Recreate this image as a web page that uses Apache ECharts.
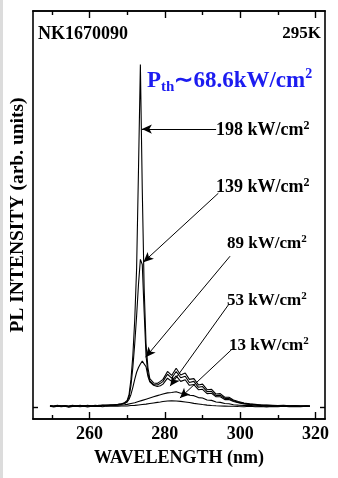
<!DOCTYPE html>
<html>
<head>
<meta charset="utf-8">
<script src="https://cdn.jsdelivr.net/npm/echarts@6/dist/echarts.min.js"></script>
<style>
html,body{margin:0;padding:0;background:#fff;}
#c{width:338px;height:478px;}
</style>
</head>
<body>
<div id="c"></div>
<script>
// Wavelength grid (nm)
var wavelength = [249.5,250.5,251.5,252.5,253.5,254.5,255.5,256.5,257.5,258.5,259.5,260.5,261.5,262.5,263.5,264.5,265.5,266.5,267.5,268.5,
  269.3,270,270.5,271,271.5,272,272.5,273,273.5,274,274.5,275,275.5,276,277,278,278.8,
  279.5,280.7,281.8,283.0,284.2,285.4,286.5,287.7,288.9,290.0,291.2,292.4,293.6,294.7,295.9,297.0,298.2,
  299.5,301,302.5,304,305.5,307,308.5,310,311.5,313,314.5,316,317.5,318.5];

// PL intensity (arb. units) for each excitation density
var pl13 = [0.2,0.05,0.25,0.1,0.2,0.0,0.15,0.25,0.1,0.2,0.05,0.2,0.15,0.25,0.1,0.3,0.2,0.3,0.25,0.3,
  0.3,0.3,0.35,0.4,0.42,0.45,0.5,0.55,0.6,0.65,0.7,0.75,0.82,0.9,1.05,1.2,1.3,
  1.4,1.55,1.6,1.55,1.45,1.3,1.15,0.95,0.8,0.65,0.5,0.42,0.35,0.3,0.25,0.2,0.2,
  0.15,0.1,0.2,0.1,0.15,0.05,0.15,0.1,0.2,0.1,0.15,0.1,0.2,0.15];
var pl53 = [0.3,0.15,0.35,0.2,0.3,0.1,0.3,0.2,0.35,0.25,0.3,0.2,0.35,0.3,0.4,0.3,0.45,0.4,0.5,0.55,
  0.6,0.7,0.8,0.9,1.0,1.1,1.25,1.4,1.55,1.7,1.85,2.0,2.15,2.3,2.6,2.9,3.1,
  3.3,3.6,3.7,3.9,3.5,3.5,3.0,2.9,2.4,2.3,1.8,1.7,1.3,1.2,0.9,0.85,0.6,
  0.5,0.4,0.45,0.3,0.35,0.25,0.3,0.2,0.3,0.25,0.3,0.2,0.25,0.2];
var pl89 = [0.35,0.2,0.4,0.25,0.35,0.15,0.4,0.3,0.45,0.3,0.4,0.25,0.45,0.35,0.5,0.4,0.55,0.5,0.65,0.75,
  0.9,1.3,2.0,3.2,5.0,7.0,8.8,10.0,10.9,11.6,11.9,10.2,7.8,6.4,5.5,5.2,5.4,
  5.8,7.3,6.5,7.9,6.5,6.9,5.5,5.7,4.4,4.5,3.4,3.5,2.6,2.6,1.9,1.9,1.4,
  1.1,0.8,0.65,0.5,0.45,0.35,0.4,0.3,0.35,0.25,0.3,0.25,0.3,0.25];
var pl139 = [0.3,0.25,0.45,0.2,0.4,0.2,0.35,0.35,0.4,0.25,0.45,0.3,0.4,0.4,0.45,0.45,0.5,0.55,0.6,0.8,
  1.0,1.4,2.6,5.5,10,16,23,31,37.3,36,24,13,8.5,6.6,5.7,5.6,6.0,
  6.5,8.3,7.3,9.0,7.4,7.8,6.2,6.5,5.0,5.2,3.9,4.0,2.9,3.0,2.2,2.2,1.6,
  1.2,0.95,0.75,0.6,0.5,0.45,0.4,0.35,0.4,0.3,0.35,0.3,0.3,0.3];
var pl198 = [0.4,0.2,0.3,0.35,0.25,0.3,0.45,0.25,0.3,0.4,0.35,0.35,0.3,0.45,0.4,0.5,0.45,0.6,0.7,0.85,
  1.1,1.7,3.2,7.0,13,22,35,60,86.5,55,30,16,10,7.2,6.1,6.0,6.5,
  7.0,9.0,8.0,9.8,8.1,8.6,7.0,7.2,5.6,5.8,4.4,4.5,3.3,3.4,2.5,2.5,1.8,
  1.4,1.05,0.85,0.7,0.55,0.5,0.45,0.4,0.45,0.35,0.4,0.3,0.35,0.3];

// Axis ticks
var majorTicks = [260,280,300,320];
var minorTicks = [250,270,290,310];

// Annotation labels and arrows (data coordinates: [start], [tip])
var densityLabels = ['198','139','89','53','13'];
var arrows = [
  [[293.6,70.2],[273.9,70.2]],
  [[294.2,54.0],[274.3,36.6]],
  [[297.3,38.1],[274.9,12.6]],
  [[297.0,26.0],[281.4,5.3]],
  [[297.8,14.6],[284.0,2.3]]
];

var FONT = '"Liberation Serif","Times New Roman",serif';
var seriesData = [pl13, pl53, pl89, pl139, pl198];

function mkXAxis(pos, ticks, len, labels) {
  return {
    type:'value', position:pos, min:245, max:322.5,
    axisLine:{show:true, onZero:false, lineStyle:{color:'#000', width:1.6}},
    axisTick:{show:true, inside:true, length:len, customValues:ticks, lineStyle:{color:'#000', width:1.4}},
    axisLabel:{show:labels, customValues:ticks, margin:6, color:'#000', fontFamily:FONT, fontWeight:'bold', fontSize:18},
    splitLine:{show:false}
  };
}
function mkYAxis(pos, withName) {
  var a = {
    type:'value', position:pos, min:-3, max:100,
    axisLine:{show:true, lineStyle:{color:'#000', width:1.6}},
    axisTick:{show:true, inside:true, length:5, customValues:[0], lineStyle:{color:'#000', width:1.4}},
    axisLabel:{show:false},
    splitLine:{show:false}
  };
  if (withName) {
    a.name = 'PL INTENSITY (arb. units)';
    a.nameLocation = 'middle';
    a.nameGap = 5;
    a.nameTextStyle = {color:'#000', fontFamily:FONT, fontWeight:'bold', fontSize:19.5};
  }
  return a;
}

var xAxes = [mkXAxis('bottom', majorTicks, 7, true), mkXAxis('bottom', minorTicks, 4, false),
             mkXAxis('top', majorTicks, 7, false), mkXAxis('top', minorTicks, 4, false)];
xAxes[0].name = 'WAVELENGTH (nm)';
xAxes[0].nameLocation = 'middle';
xAxes[0].nameGap = 30;
xAxes[0].nameTextStyle = {color:'#000', fontFamily:FONT, fontWeight:'bold', fontSize:18};

var series = seriesData.map(function(arr, k){
  return {
    type:'line', xAxisIndex:0, yAxisIndex:0, showSymbol:false, symbol:'none',
    lineStyle:{color:'#000', width:1.1}, z:2,
    data: wavelength.map(function(x,i){ return [x, arr[i]]; })
  };
});
series[4].markLine = {
  silent:true, symbol:['none','arrow'], symbolSize:[7,10],
  lineStyle:{color:'#000', width:1, type:'solid'}, label:{show:false},
  data: arrows.map(function(a){ return [{coord:a[0]},{coord:a[1]}]; })
};

var labelPos = [[211,115],[211,172],[222,229],[222,286],[224,331]];
var labelSize = [18,18,17,17,17];
var titles = [
  {text:'NK1670090', left:33, top:20, textStyle:{fontFamily:FONT, fontWeight:'bold', fontSize:18, color:'#000'}},
  {text:'295K', right:12, top:20, textStyle:{fontFamily:FONT, fontWeight:'bold', fontSize:17, color:'#000'}},
  {text:'{p|P}{b|th}{p|\u223c68.6kW/cm}{t|2}', left:142, top:62, textStyle:{rich:{
    p:{fontSize:23, fontWeight:'bold', fontFamily:FONT, color:'#1c1cf0', lineHeight:28},
    b:{fontSize:15, fontWeight:'bold', fontFamily:FONT, color:'#1c1cf0', verticalAlign:'bottom', lineHeight:28},
    t:{fontSize:14, fontWeight:'bold', fontFamily:FONT, color:'#1c1cf0', verticalAlign:'top', lineHeight:28}
  }}}
];
densityLabels.forEach(function(d,i){
  var fs = labelSize[i];
  titles.push({text:'{a|' + d + ' kW/cm}{s|2}', left:labelPos[i][0], top:labelPos[i][1], textStyle:{rich:{
    a:{fontSize:fs, fontWeight:'bold', fontFamily:FONT, color:'#000', lineHeight:fs+2},
    s:{fontSize:Math.round(fs*0.65), fontWeight:'bold', fontFamily:FONT, color:'#000', verticalAlign:'top', lineHeight:fs+2}
  }}});
});

var chart = echarts.init(document.getElementById('c'), null, {renderer:'canvas'});
chart.setOption({
  animation:false,
  backgroundColor:'#fff',
  title:titles,
  grid:{left:27, right:13, top:11, bottom:59, containLabel:false},
  xAxis:xAxes,
  yAxis:[mkYAxis('left', true), mkYAxis('right', false)],
  series:series,
  graphic:[{type:'rect', left:0, top:0, shape:{width:3, height:478}, style:{fill:'#dcdcdc'}, silent:true}]
});
</script>
</body>
</html>
